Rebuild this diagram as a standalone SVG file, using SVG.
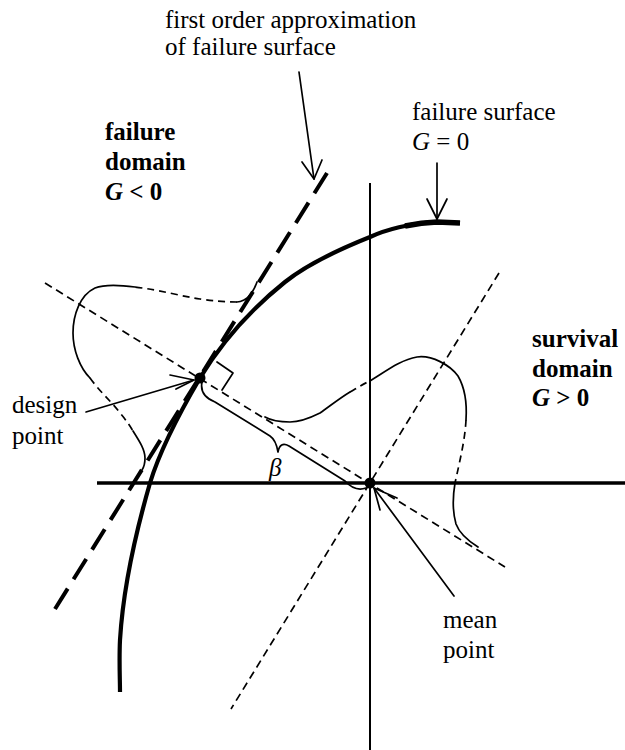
<svg xmlns="http://www.w3.org/2000/svg" width="625" height="750" viewBox="0 0 625 750">
<style>
  text { font-family: "Liberation Serif", "Times New Roman", serif; font-size: 25px; fill: #000; }
  .b { font-weight: bold; }
  .i { font-style: italic; }
  .thin { fill: none; stroke: #000; stroke-width: 1.7; stroke-linecap: round; stroke-linejoin: round; }
  .thindash { fill: none; stroke: #000; stroke-width: 1.7; stroke-dasharray: 8 5; }
  .pdfdash { fill: none; stroke: #000; stroke-width: 1.7; stroke-dasharray: 7 5; }
  .axis { fill: none; stroke: #000; }
  .arrow { fill: none; stroke: #000; stroke-width: 1.7; stroke-linecap: round; stroke-linejoin: round; }
</style>
<rect width="625" height="750" fill="#fff"/>

<g id="axes">
  <line class="axis" x1="370" y1="183" x2="370" y2="750" stroke-width="2"/>
  <line class="axis" x1="97" y1="483" x2="625" y2="483" stroke-width="3.5"/>
</g>

<g id="construction-lines">
  <line class="thindash" x1="45" y1="283" x2="505" y2="567"/>
  <line class="thindash" x1="499" y1="273" x2="231" y2="709"/>
  <line x1="55" y1="609" x2="327" y2="173" stroke="#000" stroke-width="4" stroke-dasharray="24 11" stroke-linecap="butt"/>
</g>

<g id="failure-surface">
  <path d="M460,223 L437,222 C410,223 385,230 370,237 C340,249 305,266 285,282 C250,310 220,345 200,378 C180,412 160,450 150,483 C135,535 123,590 120,640 C119,660 120,680 120,692" fill="none" stroke="#000" stroke-width="4.2"/>
  <path d="M460,223 L437,222 C425,222.5 415,224 405,226" fill="none" stroke="#000" stroke-width="5.5"/>
</g>

<g id="left-pdf">
  <path class="thin" d="M257,282 Q252,296 244,300 Q240,302 237,302"/>
  <path class="pdfdash" d="M237,302 C225,302 213,301 200,299 C180,296 160,290 135,287"/>
  <path class="thin" d="M135,287 C120,285 105,284 95,288 C80,295 73,315 73,333 C73,350 80,368 90,378"/>
  <path class="pdfdash" d="M90,378 C100,392 112,402 120,413 C126,420 130,426 133,431"/>
  <path class="thin" d="M133,431 C140,442 145,450 145,458 C145,463 144,467 142,470"/>
</g>

<g id="right-pdf">
  <path class="thin" d="M265,417 C272,421 280,422 290,422 C300,422 310,418 320,413 C330,406 340,398 350,392"/>
  <path class="pdfdash" d="M350,392 C357,388 363,384 370,381"/>
  <path class="thin" d="M370,381 C385,372 400,360 417,357 C432,355 450,365 458,376 C465,388 467,405 466,420"/>
  <path class="pdfdash" d="M466,420 C465,440 460,460 455,483"/>
  <path class="thin" d="M455,483 C453,495 452,510 456,524 C460,535 470,542 478,547"/>
</g>

<g id="markers">
  <polyline class="thin" points="217,362 233,373 222,390"/>
  <path class="thin" d="M202,382 C200,392 205,398 215,402 L270,436 Q276,440 278,452 Q280,441 289,446 L345,481 Q355,492 366,488"/>
  <circle id="design-point-dot" cx="200" cy="378" r="5.5" fill="#000"/>
  <circle id="mean-point-dot" cx="370" cy="483" r="5.5" fill="#000"/>
  <text class="i" x="269" y="476" font-size="22">β</text>
</g>

<g id="connectors">
  <line class="arrow" x1="299" y1="72" x2="314" y2="179"/>
  <polyline class="arrow" points="302,162 314,179 322,160"/>
  <line class="arrow" x1="437" y1="163" x2="437" y2="219"/>
  <polyline class="arrow" points="427,199 437,219 447,199"/>
  <line class="arrow" x1="86" y1="412" x2="194" y2="380"/>
  <polyline class="arrow" points="170,375 194,380 176,389"/>
  <line class="arrow" x1="454" y1="596" x2="374" y2="488"/>
  <polyline class="arrow" points="380,510 374,488 397,498"/>
</g>

<g id="label-first-order">
  <text x="165" y="28">first order approximation</text>
  <text x="165" y="55">of failure surface</text>
</g>
<g id="label-failure-surface">
  <text x="412" y="120">failure surface</text>
  <text x="412" y="150"><tspan class="i">G</tspan> = 0</text>
</g>
<g id="label-failure-domain">
  <text class="b" x="105" y="140">failure</text>
  <text class="b" x="105" y="170">domain</text>
  <text class="b" x="105" y="200"><tspan class="i">G</tspan> &lt; 0</text>
</g>
<g id="label-survival-domain">
  <text class="b" x="532" y="347">survival</text>
  <text class="b" x="532" y="377">domain</text>
  <text class="b" x="532" y="406"><tspan class="i">G</tspan> &gt; 0</text>
</g>
<g id="label-design-point">
  <text x="12" y="413">design</text>
  <text x="12" y="444">point</text>
</g>
<g id="label-mean-point">
  <text x="443" y="628">mean</text>
  <text x="443" y="658">point</text>
</g>
</svg>
